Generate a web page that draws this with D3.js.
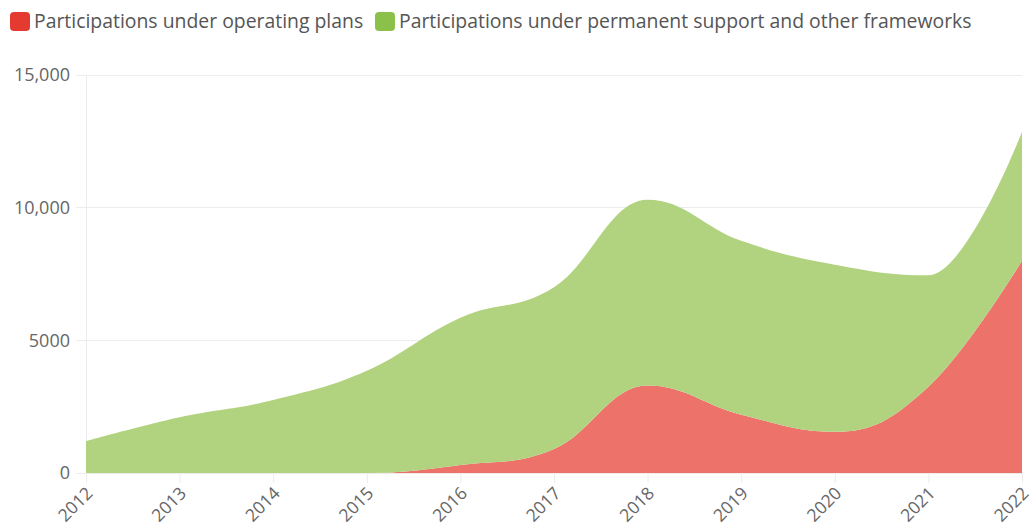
<!DOCTYPE html>
<html>
<head>
<meta charset="utf-8">
<script src="https://cdn.jsdelivr.net/npm/d3@7"></script>
<style>
  html, body { margin: 0; padding: 0; background: #fff; }
  svg { display: block; font-family: "Open Sans", sans-serif; }
</style>
</head>
<body>
<svg id="chart" width="1033" height="529"></svg>
<script>
// Participations per year, stacked
const years = [2012, 2013, 2014, 2015, 2016, 2017, 2018, 2019, 2020, 2021, 2022];
const operatingPlans = [0, 0, 0, 0, 300, 900, 3300, 2200, 1550, 3250, 8000];
const permanentSupport = [1200, 2100, 2750, 3850, 5550, 6100, 7000, 6550, 6300, 4200, 4850];
const seriesNames = ["Participations under operating plans", "Participations under permanent support and other frameworks"];
const legendColors = ["#e53a30", "#8bc14a"];
const fillColors = ["#ed726a", "#b1d37f"];
const yTicks = [0, 5000, 10000, 15000];
const yTickLabels = ["0", "5000", "10,000", "15,000"];

const svg = d3.select("#chart");
const margin = { left: 86, right: 11, top: 75, bottom: 56 };
const W = 1033, H = 529;

const x = d3.scaleLinear().domain([2012, 2022]).range([margin.left, W - margin.right]);
const y = d3.scaleLinear().domain([0, 15000]).range([H - margin.bottom, margin.top]);

// Smooth spline with clamped control points at local extremes
function SplineCurve(context) { this._context = context; }
SplineCurve.prototype = {
  areaStart() { this._line = 0; },
  areaEnd() { this._line = NaN; },
  lineStart() { this._pts = []; },
  point(px, py) { this._pts.push([+px, +py]); },
  lineEnd() {
    const p = this._pts, n = p.length, ctx = this._context;
    if (n) {
      if (this._line) ctx.lineTo(p[0][0], p[0][1]); else ctx.moveTo(p[0][0], p[0][1]);
      const s = 1.5, den = s + 1;
      const ctrl = p.map(() => null);
      for (let i = 1; i < n - 1; i++) {
        const [lx, ly] = p[i - 1], [cx, cy] = p[i], [nx, ny] = p[i + 1];
        const lcx = (s * cx + lx) / den, rcx = (s * cx + nx) / den;
        let lcy = (s * cy + ly) / den, rcy = (s * cy + ny) / den;
        let corr = 0;
        if (rcx !== lcx) corr = ((rcy - lcy) * (rcx - cx)) / (rcx - lcx) + cy - rcy;
        lcy += corr; rcy += corr;
        if (lcy > ly && lcy > cy) { lcy = Math.max(ly, cy); rcy = 2 * cy - lcy; }
        else if (lcy < ly && lcy < cy) { lcy = Math.min(ly, cy); rcy = 2 * cy - lcy; }
        if (rcy > ny && rcy > cy) { rcy = Math.max(ny, cy); lcy = 2 * cy - rcy; }
        else if (rcy < ny && rcy < cy) { rcy = Math.min(ny, cy); lcy = 2 * cy - rcy; }
        ctrl[i] = { lx: lcx, ly: lcy, rx: rcx, ry: rcy };
      }
      for (let i = 1; i < n; i++) {
        const a = ctrl[i - 1], b = ctrl[i];
        ctx.bezierCurveTo(
          a ? a.rx : p[i - 1][0], a ? a.ry : p[i - 1][1],
          b ? b.lx : p[i][0], b ? b.ly : p[i][1],
          p[i][0], p[i][1]);
      }
    }
    if (this._line || (this._line !== 0 && n === 1)) ctx.closePath();
    this._line = 1 - this._line;
  }
};
const curveSpline = ctx => new SplineCurve(ctx);

// Grid lines
const grid = svg.append("g");
grid.selectAll("line").data(yTicks).join("line")
  .attr("x1", margin.left - 10).attr("x2", W - margin.right)
  .attr("y1", d => y(d)).attr("y2", d => y(d))
  .attr("stroke", "#ececec").attr("stroke-width", 1).attr("shape-rendering", "crispEdges");
svg.append("line")
  .attr("x1", margin.left).attr("x2", margin.left)
  .attr("y1", y(15000)).attr("y2", y(0))
  .attr("stroke", "#ececec").attr("shape-rendering", "crispEdges");

// Stacked areas
const table = years.map((yr, i) => ({ year: yr, ops: operatingPlans[i], perm: permanentSupport[i] }));
const stack = d3.stack().keys(["ops", "perm"])(table);
const area = d3.area()
  .x(d => x(d.data.year))
  .y0(d => y(d[0]))
  .y1(d => y(d[1]))
  .curve(curveSpline);
svg.append("g").selectAll("path").data(stack).join("path")
  .attr("d", area)
  .attr("fill", (d, i) => fillColors[i]);

// Y axis
const yAxis = d3.axisLeft(y).tickValues(yTicks).tickFormat((d, i) => yTickLabels[i]).tickSize(0).tickPadding(16);
const yg = svg.append("g").attr("transform", `translate(${margin.left},0)`).call(yAxis);
yg.select(".domain").remove();
yg.selectAll("text").attr("fill", "#666").attr("font-size", 18).attr("font-family", "Open Sans, sans-serif");

// X axis with rotated year labels
const xAxis = d3.axisBottom(x).tickValues(years).tickFormat(d3.format("d")).tickSize(10).tickPadding(0);
const xg = svg.append("g").attr("transform", `translate(0,${y(0)})`).call(xAxis);
xg.select(".domain").attr("stroke", "#ececec");
xg.selectAll(".tick line").attr("stroke", "#ececec");
xg.selectAll("text")
  .attr("fill", "#666").attr("font-size", 17.5).attr("font-family", "Open Sans, sans-serif")
  .attr("text-anchor", "end")
  .attr("y", 0)
  .attr("dy", "0.35em")
  .attr("transform", "translate(3,17) rotate(-45)");

// Legend
const legend = svg.append("g");
const lx = [10, 375];
seriesNames.forEach((name, i) => {
  const g = legend.append("g").attr("transform", `translate(${lx[i]},12)`);
  g.append("rect").attr("width", 20).attr("height", 19).attr("rx", 4).attr("fill", legendColors[i]);
  g.append("text").attr("x", 24).attr("y", 16).attr("font-size", 19.4).attr("fill", "#555").text(name);
});
</script>
</body>
</html>
